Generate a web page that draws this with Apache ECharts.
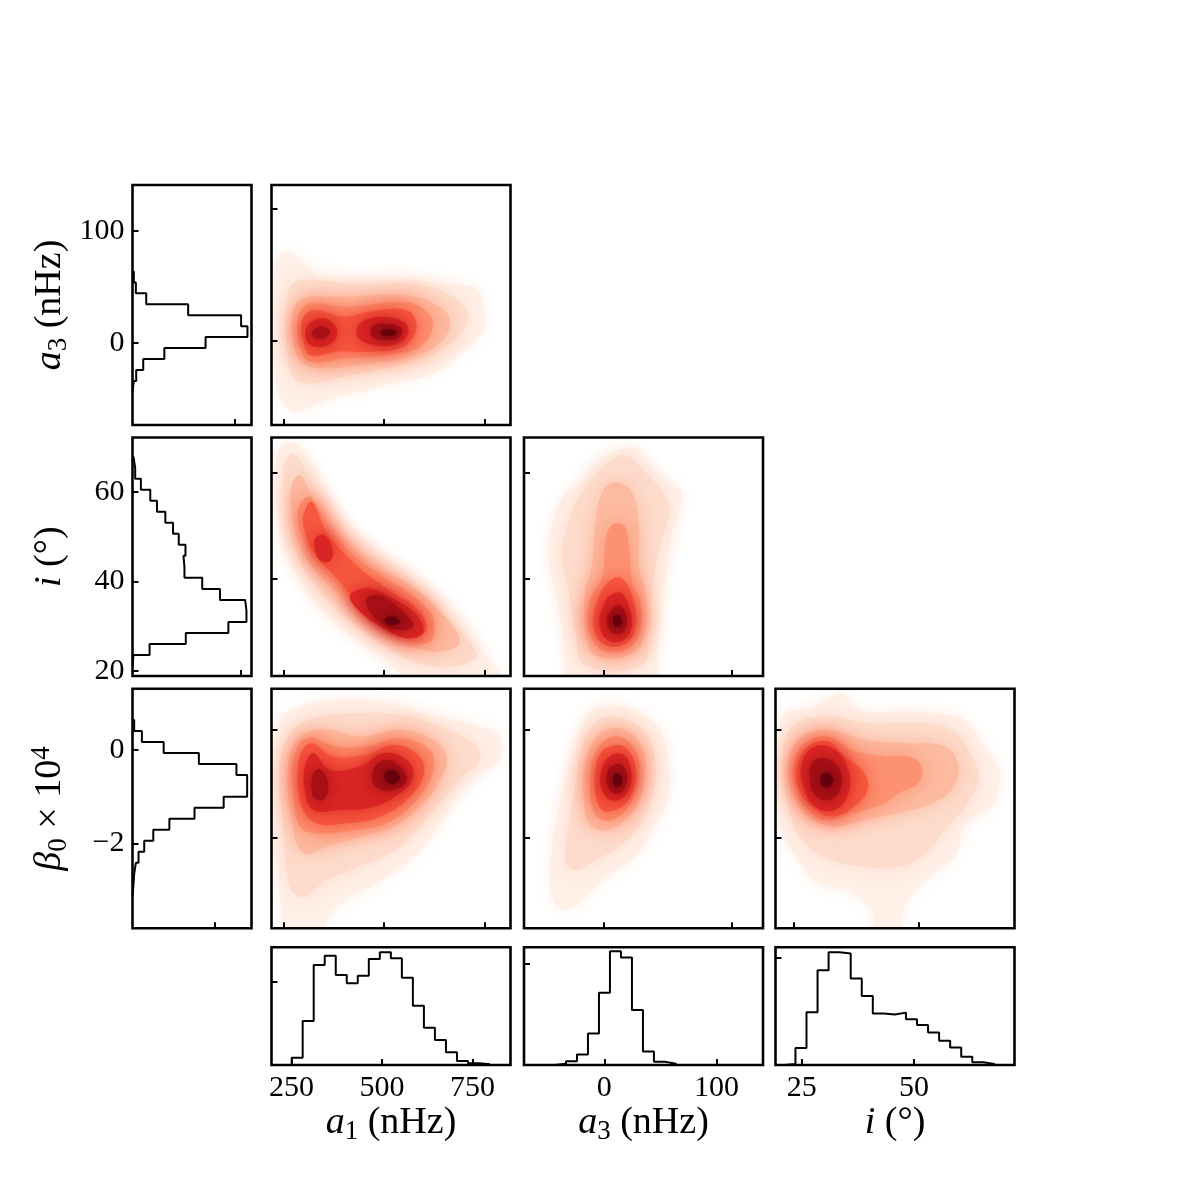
<!DOCTYPE html>
<html><head><meta charset="utf-8">
<script src="https://cdn.jsdelivr.net/npm/echarts@6/dist/echarts.min.js"></script>
<style>html,body{margin:0;padding:0;background:#fff}#c{width:1200px;height:1200px}</style>
</head><body><div id="c"></div>
<script>
// ================= DATA =================
// marginal histograms: bin edges and counts (arbitrary count units)
const a1Edges = [250.5,280.9,311.4,341.8,372.3,402.7,433.1,463.6,494.0,524.5,554.9,585.3,615.8,646.2,676.7,707.1,737.5,768.0,798.4];
const a1Counts = [22,132,300,328,270,245,268,318,338,320,262,178,112,75,38,12,5,2];
const a3Edges = [-44,-34.2,-24.4,-14.6,-4.8,5,14.8,24.6,34.4,44.2,54,63.8];
const a3Counts = [4,11,32,95,218,343,324,166,41,10,4];
const iEdges = [21.15,23.61,26.07,28.53,30.99,33.45,35.91,38.37,40.83,43.29,45.75,48.21,50.67,53.13,55.59,58.05,60.51,62.97,65.43,67.89];
const iCounts = [3,51,159,286,340,336,261,208,155,152,158,138,121,98,73,53,25,8,3];
const bEdges = [-3.12,-2.885,-2.65,-2.415,-2.18,-1.945,-1.71,-1.475,-1.24,-1.005,-0.77,-0.535,-0.30,-0.065,0.17,0.405,0.64];
const bCounts = [3,5,10,18,35,62,110,185,272,342,342,310,198,93,28,5];

// tick values
const a1Ticks = [250, 500, 750];
const a3Ticks = [0, 100];
const iTicksRow = [20, 40, 60];
const iTicksRow2D = [40, 60];
const iTicksCol = [25, 50];
const bTicks = [-2, 0];

// 2D density contour regions: [level, [[x, y], ...]] in data units
const densA1A3 = [
 [0, [[229.3,53.4],[241.8,64.7],[258.3,67.2],[299.7,59.7],[341.1,47.8],[440.4,46.3],[564.6,46.3],[688.7,42.0],[730.1,38.8],[748.3,23.1],[745,6.8],[688.7,-9.1],[639.1,-22.2],[581.1,-28.5],[523.2,-32.2],[440.4,-38.5],[357.6,-44.8],[283.1,-53.6],[254.2,-48.6],[233.5,-34.8],[226.9,3.0]]],
 [1, [[258.3,28.2],[274.9,43.3],[324.5,45.8],[440.4,42.0],[564.6,43.3],[655.6,35.7],[705.3,23.1],[697.0,8.0],[639.1,-7.1],[564.6,-15.9],[481.8,-22.2],[399.0,-27.2],[316.3,-32.3],[274.9,-27.2],[258.3,-2.0]]],
 [2, [[274.9,23.1],[299.7,32.0],[399.0,33.2],[539.7,34.5],[622.5,28.2],[663.9,15.6],[639.1,-2.0],[564.6,-12.1],[465.2,-17.1],[357.6,-20.9],[299.7,-17.1],[274.9,-2.0]]],
 [3, [[287.3,18.1],[316.3,28.2],[407.3,25.7],[539.7,29.4],[589.4,25.7],[622.5,13.1],[589.4,-4.6],[506.6,-10.8],[399.0,-13.4],[316.3,-15.9],[291.4,-4.6]]],
 [4, [[295.6,14.3],[324.5,23.1],[399.0,18.1],[465.2,21.9],[556.3,23.1],[581.1,10.6],[548.0,-4.6],[465.2,-8.3],[382.4,-8.3],[316.3,-10.8],[299.7,0.5]]],
 [5, [[308.0,10.6],[341.1,16.8],[374.2,13.1],[382.4,3.0],[349.4,-4.6],[312.1,-2.0]]],
 [5, [[440.4,13.1],[490.1,18.1],[548.0,14.3],[560.4,5.5],[523.2,-3.3],[457.0,-2.0],[432.1,4.3]]],
 [6, [[469.4,10.6],[510.8,12.6],[543.9,9.3],[539.7,3.0],[510.8,0.5],[473.5,2.5]]],
 [6, [[324.5,8.0],[349.4,10.6],[365.9,6.8],[349.4,1.7],[324.5,3.0]]],
 [7, [[494.2,8.0],[519.0,8.5],[531.5,6.0],[519.0,3.8],[494.2,4.5]]]
];
const densA1I = [
 [0, [[237.6,63.9],[266.6,65.8],[295.6,64.5],[341.1,58.2],[390.7,51.9],[465.2,46.3],[548.0,41.3],[622.5,35.6],[688.7,30.6],[738.4,26.8],[788.1,20.5],[581.1,20.5],[498.3,24.9],[415.6,29.3],[349.4,33.7],[299.7,38.7],[266.6,43.1],[241.8,50.1],[229.3,57.6]]],
 [1, [[254.2,62.0],[274.9,63.6],[308.0,60.1],[357.6,52.6],[432.1,46.3],[523.2,41.3],[605.9,36.2],[688.7,29.9],[730.1,25.5],[688.7,23.6],[605.9,23.6],[523.2,26.2],[440.4,30.6],[374.2,35.0],[316.3,40.0],[283.1,45.0],[258.3,52.6],[250.0,58.9]]],
 [2, [[270.7,57.6],[291.4,59.5],[324.5,55.1],[390.7,48.2],[473.5,42.5],[564.6,38.7],[639.1,33.7],[688.7,28.0],[639.1,26.2],[564.6,27.4],[473.5,31.2],[399.0,36.2],[332.8,41.3],[291.4,46.3],[270.7,52.6]]],
 [3, [[287.3,53.2],[316.3,55.4],[357.6,50.1],[423.9,44.4],[506.6,40.0],[581.1,36.2],[622.5,32.4],[614.2,28.0],[548.0,28.7],[465.2,32.4],[399.0,37.5],[332.8,43.1],[295.6,48.2]]],
 [4, [[299.7,51.9],[320.4,54.5],[357.6,48.8],[432.1,42.5],[506.6,38.1],[581.1,34.3],[605.9,30.6],[572.8,28.7],[506.6,30.6],[440.4,35.0],[382.4,40.0],[324.5,45.0],[303.8,48.8]]],
 [5, [[423.9,37.5],[465.2,38.1],[523.2,36.2],[581.1,33.1],[597.7,29.9],[556.3,28.7],[498.3,30.6],[440.4,33.7],[415.6,36.2]]],
 [5, [[328.7,47.5],[353.5,48.2],[374.2,45.0],[361.8,43.1],[337.0,43.8]]],
 [6, [[457.0,36.2],[490.1,36.8],[539.7,34.3],[572.8,31.2],[548.0,30.2],[498.3,31.2],[465.2,33.7]]],
 [7, [[502.5,32.4],[523.2,32.8],[539.7,31.8],[523.2,31.2],[506.6,31.5]]]
];
const densA3I = [
 [0, [[19.1,64.8],[29.6,63.6],[42.6,59.5],[59.6,56.7],[59.6,53.8],[53.0,48.8],[47.8,40.0],[43.9,33.7],[41.3,26.2],[37.4,20.5],[-26.5,20.5],[-31.7,28.0],[-36.9,36.2],[-43.5,43.8],[-40.8,50.1],[-30.4,56.0],[-17.4,58.2],[-6.9,62.0],[6.1,63.6]]],
 [1, [[16.5,63.3],[32.2,60.1],[47.8,55.7],[50.4,51.9],[42.6,45.0],[37.4,37.5],[34.8,29.9],[29.6,23.6],[-14.8,23.6],[-22.6,29.9],[-27.8,37.5],[-33.0,43.8],[-29.1,50.1],[-17.4,56.3],[0.9,61.4]]],
 [2, [[8.7,58.2],[21.8,56.3],[27.0,50.1],[27.0,42.5],[32.2,37.5],[32.2,31.2],[24.4,26.2],[-6.9,25.5],[-14.8,31.2],[-14.8,37.5],[-9.6,42.5],[-6.9,50.1],[-1.7,56.3]]],
 [3, [[6.1,50.1],[15.2,50.1],[19.1,46.9],[21.8,39.4],[28.3,35.6],[28.3,30.6],[19.1,26.8],[-1.7,26.5],[-12.2,30.6],[-10.8,36.2],[-1.7,40.0],[0.9,46.9]]],
 [4, [[3.5,39.4],[14.0,40.0],[23.1,35.6],[24.4,30.6],[16.5,27.7],[0.9,27.4],[-8.2,30.6],[-5.6,35.6]]],
 [5, [[4.8,36.8],[14.0,37.2],[20.4,33.7],[20.4,29.9],[11.3,28.0],[0.9,28.7],[-3.8,31.8],[-0.4,35.0]]],
 [6, [[7.4,34.6],[14.0,34.6],[17.8,32.1],[15.2,29.9],[7.4,29.6],[2.2,31.8]]],
 [7, [[7.4,32.8],[11.3,33.1],[14.0,31.8],[11.3,30.9],[7.4,31.2]]]
];
const densA1B = [
 [0, [[225.2,-0.31],[241.8,0.186],[283.1,0.402],[399.0,0.557],[523.2,0.464],[622.5,0.247],[721.8,0.093],[783.9,-0.093],[786.4,-0.557],[721.8,-0.867],[663.9,-1.424],[622.5,-1.919],[556.3,-2.476],[465.2,-2.910],[382.4,-3.281],[332.8,-3.776],[258.3,-3.838],[241.8,-2.910],[225.2,-2.043]]],
 [1, [[241.8,-0.681],[266.6,-0.062],[316.3,0.186],[440.4,0.310],[564.6,0.247],[655.6,0.0],[721.8,-0.248],[738.4,-0.557],[688.7,-0.929],[630.8,-1.424],[572.8,-1.919],[514.9,-2.290],[440.4,-2.538],[357.6,-2.786],[299.7,-3.095],[266.6,-2.910],[250.0,-1.857]]],
 [2, [[262.5,-0.619],[291.4,-0.124],[357.6,0.0],[440.4,-0.124],[539.7,0.0],[622.5,-0.186],[655.6,-0.495],[639.1,-0.929],[589.4,-1.424],[523.2,-1.795],[440.4,-1.981],[357.6,-2.167],[299.7,-2.290],[270.7,-1.671]]],
 [3, [[274.9,-0.557],[308.0,-0.155],[382.4,-0.310],[456.9,-0.310],[539.7,-0.155],[614.2,-0.372],[622.5,-0.743],[581.1,-1.300],[506.6,-1.733],[423.9,-1.857],[341.1,-1.919],[291.4,-1.795],[274.9,-1.176]]],
 [4, [[287.3,-0.619],[316.3,-0.248],[374.2,-0.495],[456.9,-0.464],[523.2,-0.279],[589.4,-0.495],[597.7,-0.867],[556.3,-1.300],[490.1,-1.609],[407.3,-1.733],[332.8,-1.733],[295.6,-1.424]]],
 [5, [[303.8,-0.681],[324.5,-0.433],[365.9,-0.743],[440.4,-0.681],[498.3,-0.433],[556.3,-0.557],[572.8,-0.867],[539.7,-1.176],[473.5,-1.424],[390.7,-1.486],[324.5,-1.486],[303.8,-1.114]]],
 [6, [[473.5,-0.743],[506.6,-0.557],[548.0,-0.743],[556.3,-0.960],[523.2,-1.114],[477.7,-1.052]]],
 [6, [[324.5,-0.805],[345.2,-0.743],[361.8,-1.052],[349.4,-1.300],[324.5,-1.238]]],
 [7, [[502.5,-0.805],[523.2,-0.743],[539.7,-0.867],[527.3,-0.991],[506.6,-0.960]]]
];
const densA3B = [
 [0, [[-6.9,0.402],[13.9,0.433],[32.2,0.247],[45.2,-0.062],[50.4,-0.681],[50.4,-1.238],[37.4,-1.857],[24.4,-2.352],[6.1,-2.662],[-12.1,-3.033],[-30.4,-3.343],[-40.8,-3.095],[-42.1,-2.538],[-38.2,-1.795],[-33.0,-1.176],[-25.2,-0.557],[-14.8,0.186]]],
 [1, [[-4.3,0.186],[16.5,0.186],[34.8,-0.124],[40.0,-0.681],[37.4,-1.238],[27.0,-1.795],[11.3,-2.167],[-6.9,-2.414],[-22.6,-2.600],[-30.4,-2.414],[-27.8,-1.795],[-22.6,-1.052],[-17.4,-0.310]]],
 [2, [[0.9,0.0],[16.5,0.0],[29.6,-0.310],[32.2,-0.743],[28.3,-1.238],[16.5,-1.671],[0.9,-1.857],[-12.1,-1.733],[-16.1,-1.238],[-14.8,-0.619],[-8.2,-0.186]]],
 [3, [[3.5,-0.155],[15.2,-0.155],[25.7,-0.433],[27.0,-0.867],[21.8,-1.300],[11.3,-1.609],[-1.7,-1.671],[-9.5,-1.424],[-10.8,-0.929],[-6.9,-0.433]]],
 [4, [[4.8,-0.310],[15.2,-0.310],[23.1,-0.557],[24.4,-0.929],[19.1,-1.300],[8.7,-1.486],[-1.7,-1.486],[-6.9,-1.176],[-6.9,-0.743],[-3.0,-0.433]]],
 [5, [[6.1,-0.464],[15.2,-0.464],[20.4,-0.681],[20.4,-1.052],[13.9,-1.269],[4.8,-1.300],[-1.7,-1.114],[-2.2,-0.743]]],
 [6, [[7.4,-0.650],[13.9,-0.650],[17.8,-0.867],[15.2,-1.114],[7.4,-1.176],[2.2,-0.991],[3.0,-0.743]]],
 [7, [[7.4,-0.836],[11.3,-0.805],[13.9,-0.929],[11.3,-1.052],[7.4,-1.021]]]
];
const densIB = [
 [0, [[22.0,-0.186],[23.35,0.310],[27.99,0.371],[31.97,0.588],[34.95,0.681],[36.94,0.433],[40.59,0.310],[47.88,0.340],[55.17,0.278],[59.15,0.186],[62.47,-0.248],[65.78,-0.681],[66.11,-0.929],[64.45,-1.424],[59.15,-1.733],[57.49,-2.290],[53.85,-2.600],[49.21,-2.972],[46.55,-3.405],[45.89,-3.838],[41.25,-3.838],[40.59,-3.343],[36.61,-3.033],[29.32,-2.817],[26.0,-2.414],[22.69,-1.857],[21.69,-1.114]]],
 [1, [[23.02,-0.495],[24.67,0.062],[31.30,0.248],[39.26,0.124],[49.21,0.124],[56.50,0.0],[60.48,-0.495],[61.80,-0.929],[59.15,-1.424],[55.17,-1.857],[51.19,-2.290],[45.89,-2.538],[39.26,-2.538],[32.63,-2.414],[27.99,-2.167],[24.67,-1.671]]],
 [2, [[24.01,-0.557],[26.66,-0.124],[31.97,0.0],[39.26,-0.186],[47.22,-0.248],[55.17,-0.310],[57.82,-0.681],[56.50,-1.114],[52.52,-1.362],[45.89,-1.548],[39.26,-1.671],[32.63,-1.795],[27.33,-1.548],[24.67,-1.114]]],
 [3, [[25.01,-0.619],[27.33,-0.248],[31.97,-0.124],[36.61,-0.372],[43.24,-0.495],[47.88,-0.495],[50.53,-0.681],[49.87,-0.991],[45.89,-1.176],[43.24,-1.362],[36.61,-1.548],[31.30,-1.671],[27.33,-1.424],[25.34,-1.052]]],
 [4, [[25.67,-0.681],[27.99,-0.310],[31.97,-0.217],[35.28,-0.495],[38.60,-0.743],[39.92,-1.052],[37.93,-1.362],[32.63,-1.610],[27.99,-1.362],[26.0,-1.052]]],
 [5, [[26.66,-0.619],[29.32,-0.310],[33.30,-0.372],[35.95,-0.743],[35.95,-1.176],[33.30,-1.486],[29.32,-1.424],[27.0,-1.052]]],
 [6, [[28.65,-0.619],[31.30,-0.526],[34.29,-0.743],[34.29,-1.114],[31.97,-1.300],[29.32,-1.207],[28.32,-0.929]]],
 [7, [[30.64,-0.836],[31.97,-0.805],[32.96,-0.929],[31.97,-1.052],[30.64,-1.021]]]
];

// ================= STYLE / LAYOUT =================
const FONT = '"Liberation Serif", "Times New Roman", Times, serif';
const levelColors = ['#fff0e8','#fddccd','#fcbba1','#fc9272','#f6583f','#d92523','#a50f15','#67000d'];
const levelBlur = [16, 22, 22, 22, 20, 18, 14, 10];
const rich = {
  it:  {fontFamily: FONT, fontStyle: 'italic', fontSize: 38, color: '#000', lineHeight: 44},
  n:   {fontFamily: FONT, fontSize: 38, color: '#000', lineHeight: 44},
  sub: {fontFamily: FONT, fontSize: 27, color: '#000', lineHeight: 18, verticalAlign: 'bottom'},
  sup: {fontFamily: FONT, fontSize: 27, color: '#000', lineHeight: 18, verticalAlign: 'top'}
};
const fmt = v => (v < 0 ? '\u2212' + Math.abs(v) : String(v));

const cols = [{left: 132.5, width: 119}, {left: 271.5, width: 239}, {left: 524, width: 239}, {left: 775.5, width: 239}];
const rows = [{top: 185, height: 240}, {top: 437.5, height: 238.5}, {top: 688.7, height: 239.6}, {top: 947.3, height: 117.7}];

// axis ranges
const R = {
  cntA3: [0, 355], cntI: [0, 355], cntB: [0, 355], cntA1: [0, 353],
  a3H: [-73.7, 141.2], iH: [18.9, 72.2], bH: [-3.816, 1.308],
  a1H: [194.8, 855], a3Hx: [-71.6, 141.4], iHx: [19.17, 72.37],
  a1D: [220.7, 814.2], a3yD: [-63.7, 117.6], a3xD: [-62.75, 124.26],
  iyD: [21.57, 66.66], ixD: [21.46, 68.99], bD: [-3.677, 0.761]
};

const panels = [
  {c:0, r:0, x:{range:R.cntA3, ticks:[305]}, y:{range:R.a3H, ticks:a3Ticks, labels:true, name:'{it|a}{sub|3}{n| (nHz)}'}, hist:[a3Edges, a3Counts, true]},
  {c:1, r:0, x:{range:R.a1D, ticks:a1Ticks}, y:{range:R.a3yD, ticks:[0,100]}, dens:densA1A3},
  {c:0, r:1, x:{range:R.cntI, ticks:[324]}, y:{range:R.iH, ticks:iTicksRow, labels:true, name:'{it|i}{n| (°)}'}, hist:[iEdges, iCounts, true]},
  {c:1, r:1, x:{range:R.a1D, ticks:a1Ticks}, y:{range:R.iyD, ticks:iTicksRow2D}, dens:densA1I},
  {c:2, r:1, x:{range:R.a3xD, ticks:a3Ticks}, y:{range:R.iyD, ticks:iTicksRow2D}, dens:densA3I},
  {c:0, r:2, x:{range:R.cntB, ticks:[245]}, y:{range:R.bH, ticks:bTicks, labels:true, name:'{it|β}{sub|0}{n| × 10}{sup|4}'}, hist:[bEdges, bCounts, true]},
  {c:1, r:2, x:{range:R.a1D, ticks:a1Ticks}, y:{range:R.bD, ticks:bTicks}, dens:densA1B},
  {c:2, r:2, x:{range:R.a3xD, ticks:a3Ticks}, y:{range:R.bD, ticks:bTicks}, dens:densA3B},
  {c:3, r:2, x:{range:R.ixD, ticks:iTicksCol}, y:{range:R.bD, ticks:bTicks}, dens:densIB},
  {c:1, r:3, x:{range:R.a1H, ticks:a1Ticks, labels:true, name:'{it|a}{sub|1}{n| (nHz)}'}, y:{range:R.cntA1, ticks:[250]}, hist:[a1Edges, a1Counts, false]},
  {c:2, r:3, x:{range:R.a3Hx, ticks:a3Ticks, labels:true, name:'{it|a}{sub|3}{n| (nHz)}'}, y:{range:R.cntA3, ticks:[305]}, hist:[a3Edges, a3Counts, false]},
  {c:3, r:3, x:{range:R.iHx, ticks:iTicksCol, labels:true, name:'{it|i}{n| (°)}'}, y:{range:R.cntI, ticks:[324]}, hist:[iEdges, iCounts, false]}
];

function mkAxis(gi, spec, isX) {
  const ax = {
    type: 'value', gridIndex: gi, min: spec.range[0], max: spec.range[1], z: 6,
    position: isX ? 'bottom' : 'left',
    axisLine: {show: false, onZero: false}, splitLine: {show: false}, splitArea: {show: false},
    axisTick: {show: true, inside: true, length: 6, lineStyle: {color: '#000', width: 2}, customValues: spec.ticks},
    axisLabel: {show: !!spec.labels, customValues: spec.ticks, formatter: fmt, color: '#000', fontFamily: FONT, fontSize: 30, margin: 8},
    axisPointer: {show: false}
  };
  if (spec.name) {
    ax.name = spec.name; ax.nameLocation = 'middle'; ax.nameGap = isX ? 36 : 60;
    ax.nameRotate = isX ? 0 : 90; ax.nameMoveOverlap = false;
    ax.nameTextStyle = {rich: rich, fontFamily: FONT, fontSize: 38, color: '#000'};
  }
  return ax;
}

function stepPoints(edges, counts, horiz) {
  const pts = [[edges[0], 0]];
  for (let k = 0; k < counts.length; k++) {
    pts.push([edges[k], counts[k]]);
    pts.push([edges[k + 1], counts[k]]);
  }
  pts.push([edges[edges.length - 1], 0]);
  return horiz ? pts.map(p => [p[1], p[0]]) : pts;
}

const grid = [], xAxis = [], yAxis = [], series = [];
panels.forEach((p, gi) => {
  grid.push({left: cols[p.c].left, top: rows[p.r].top, width: cols[p.c].width, height: rows[p.r].height,
    show: true, borderColor: '#000', borderWidth: 2.6, backgroundColor: 'transparent', z: 5, containLabel: false, outerBoundsMode: 'none'});
  xAxis.push(mkAxis(gi, p.x, true));
  yAxis.push(mkAxis(gi, p.y, false));
  if (p.dens) {
    const polys = p.dens;
    series.push({
      type: 'custom', coordinateSystem: 'cartesian2d', xAxisIndex: gi, yAxisIndex: gi, z: 2, silent: true, animation: false,
      data: polys.map((q, k) => [q[1][0][0], q[1][0][1], k]),
      renderItem: (params, api) => {
        const q = polys[params.dataIndex];
        const lev = q[0];
        const pts = q[1].map(pt => api.coord(pt));
        const cs = params.coordSys;
        return {
          type: 'polygon', z2: lev,
          shape: {points: pts, smooth: 0.4},
          style: {fill: levelColors[lev], shadowBlur: levelBlur[lev], shadowColor: levelColors[lev]},
          clipPath: {type: 'rect', shape: {x: cs.x, y: cs.y, width: cs.width, height: cs.height}}
        };
      }
    });
  }
  if (p.hist) {
    series.push({
      type: 'line', xAxisIndex: gi, yAxisIndex: gi, z: 3, animation: false, silent: true,
      symbol: 'none', showSymbol: false, clip: true,
      lineStyle: {color: '#000', width: 2},
      data: stepPoints(p.hist[0], p.hist[1], p.hist[2])
    });
  }
});

const chart = echarts.init(document.getElementById('c'), null, {renderer: 'canvas'});
chart.setOption({animation: false, backgroundColor: '#fff', grid, xAxis, yAxis, series, tooltip: {show: false}});
</script>
</body></html>
